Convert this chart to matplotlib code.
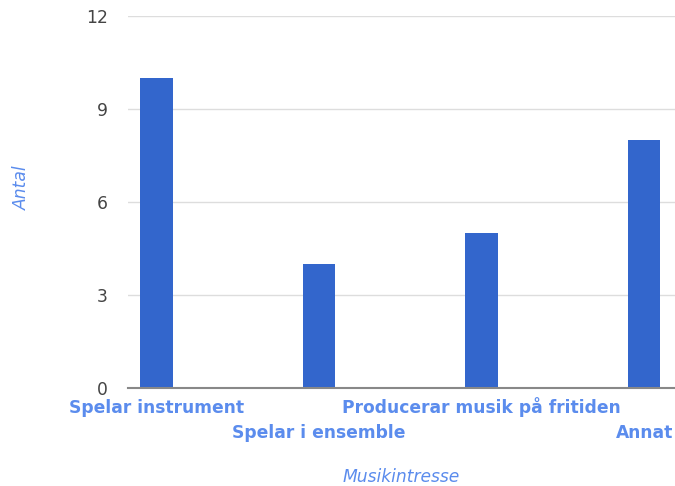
import matplotlib
matplotlib.use("Agg")
import matplotlib.pyplot as plt
from matplotlib.transforms import blended_transform_factory

categories = ["Spelar instrument", "Spelar i ensemble", "Producerar musik på fritiden", "Annat"]
values = [10, 4, 5, 8]
yticks = [0, 3, 6, 9, 12]

fig = plt.figure(figsize=(6.75, 4.86), dpi=100)
ax = fig.add_axes([128/675, 1-388/486, 1-128/675, (388-16)/486])

x = list(range(len(categories)))
ax.bar(x, values, width=0.2, color="#3366cc", zorder=3)
ax.set_xlim(-0.175, 3.19)
ax.set_ylim(0, 12)
ax.set_yticks(yticks)
ax.set_yticklabels([str(t) for t in yticks], fontsize=12.3, color="#444444")
ax.tick_params(axis="y", length=0, pad=14.5)
ax.grid(axis="y", color="#dddddd", linewidth=1, zorder=0)
for s in ["top", "right", "left"]:
    ax.spines[s].set_visible(False)
ax.spines["bottom"].set_color("#888888")
ax.spines["bottom"].set_linewidth(1.5)
ax.spines["bottom"].set_zorder(4)

ax.set_xticks(x)
ax.set_xticklabels([])
ax.tick_params(axis="x", length=0)
tr = blended_transform_factory(ax.transData, fig.transFigure)
for i, c in enumerate(categories):
    ybase = 413 if i % 2 == 0 else 438
    ax.text(i, 1 - ybase/486, c, transform=tr, ha="center", va="baseline",
            fontsize=12.3, fontweight="bold", color="#5b8ced", clip_on=False)

fig.text(22/675, 1-188/486, "Antal", rotation=90, style="italic", color="#5b8ced",
         fontsize=12.3, ha="center", va="center")
fig.text(401/675, 1-477/486, "Musikintresse", style="italic", color="#5b8ced",
         fontsize=12.3, ha="center", va="center")

fig.savefig("out.png", dpi=100)
